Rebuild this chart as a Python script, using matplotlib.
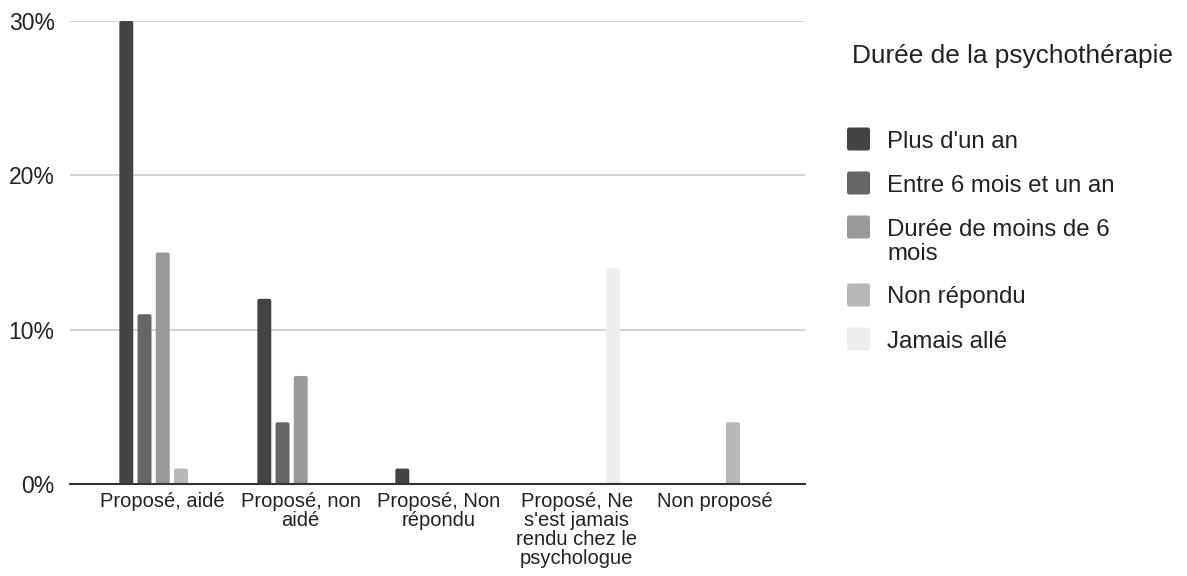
import matplotlib
matplotlib.use("Agg")
import matplotlib.pyplot as plt
from matplotlib.patches import FancyBboxPatch
from matplotlib.ticker import FuncFormatter
import numpy as np

plt.rcParams['font.family'] = ['Liberation Sans', 'DejaVu Sans']

categories = ["Proposé, aidé", "Proposé, non\naidé", "Proposé, Non\nrépondu",
              "Proposé, Ne\ns'est jamais\nrendu chez le\npsychologue", "Non proposé"]
series = ["Plus d'un an", "Entre 6 mois et un an", "Durée de moins de 6\nmois",
          "Non répondu", "Jamais allé"]
plus_un_an = [30, 12, 1, 0, 0]
entre_6_mois_un_an = [11, 4, 0, 0, 0]
moins_6_mois = [15, 7, 0, 0, 0]
non_repondu = [1, 0, 0, 0, 4]
jamais_alle = [0, 0, 0, 14, 0]
values = [plus_un_an, entre_6_mois_un_an, moins_6_mois, non_repondu, jamais_alle]
colors = ["#444444", "#666666", "#999999", "#b7b7b7", "#efefef"]

fig = plt.figure(figsize=(11.87, 5.76), dpi=100)
ax = fig.add_axes([70 / 1187, 1 - 484 / 576, 735 / 1187, 463 / 576])

x = np.arange(len(categories))
step = 0.132
width = 0.101
ax.set_xlim(-0.672, 4.654)
ax.set_ylim(0, 30)

# rounded corners ~2px
r = 2 / 138
aspect = (30 / 463 * 2) / r
for i, (vals, col) in enumerate(zip(values, colors)):
    for xi, v in zip(x, vals):
        if v <= 0:
            continue
        cx = xi + (i - 2) * step
        p = FancyBboxPatch((cx - width / 2, 0), width, v,
                           boxstyle=f"round,pad=0,rounding_size={r}",
                           mutation_aspect=aspect, facecolor=col,
                           edgecolor="none", zorder=3)
        ax.add_patch(p)

ax.set_yticks([0, 10, 20, 30])
ax.yaxis.set_major_formatter(FuncFormatter(lambda v, _: f"{v:.0f}%"))
ax.set_xticks(x)
ax.set_xticklabels(categories, fontsize=14.5, color="#222222", linespacing=1.0,
                   va="top")
ax.tick_params(axis="x", length=0, pad=6)
ax.tick_params(axis="y", length=0, pad=11, labelsize=16.5, labelcolor="#222222")
ax.grid(axis="y", color="#cccccc", linewidth=1.2, zorder=0)
ax.set_axisbelow(True)
for s in ["top", "right", "left"]:
    ax.spines[s].set_visible(False)
ax.spines["bottom"].set_color("#333333")
ax.spines["bottom"].set_linewidth(1.5)
ax.spines["bottom"].set_zorder(4)

# legend
W, H = 1187, 576
fig.text(852 / W, 1 - 63.5 / H, "Durée de la psychothérapie", fontsize=18.9,
         color="#222222", va="baseline", ha="left")
rows_y = [139, 183, 227, 295, 339]
for lab, col, yy in zip(series, colors, rows_y):
    sq = 23
    fig.patches.append(FancyBboxPatch(
        (847 / W, 1 - (yy + sq / 2) / H), sq / W, sq / H,
        boxstyle="round,pad=0,rounding_size=0.002", transform=fig.transFigure,
        facecolor=col, edgecolor="none", mutation_aspect=W / H))
    for k, line in enumerate(lab.split("\n")):
        fig.text(887 / W, 1 - (yy + 8.5 + 25 * k) / H, line, fontsize=17.3,
                 color="#222222", va="baseline", ha="left")

fig.savefig("out.png", dpi=100, facecolor="white")
